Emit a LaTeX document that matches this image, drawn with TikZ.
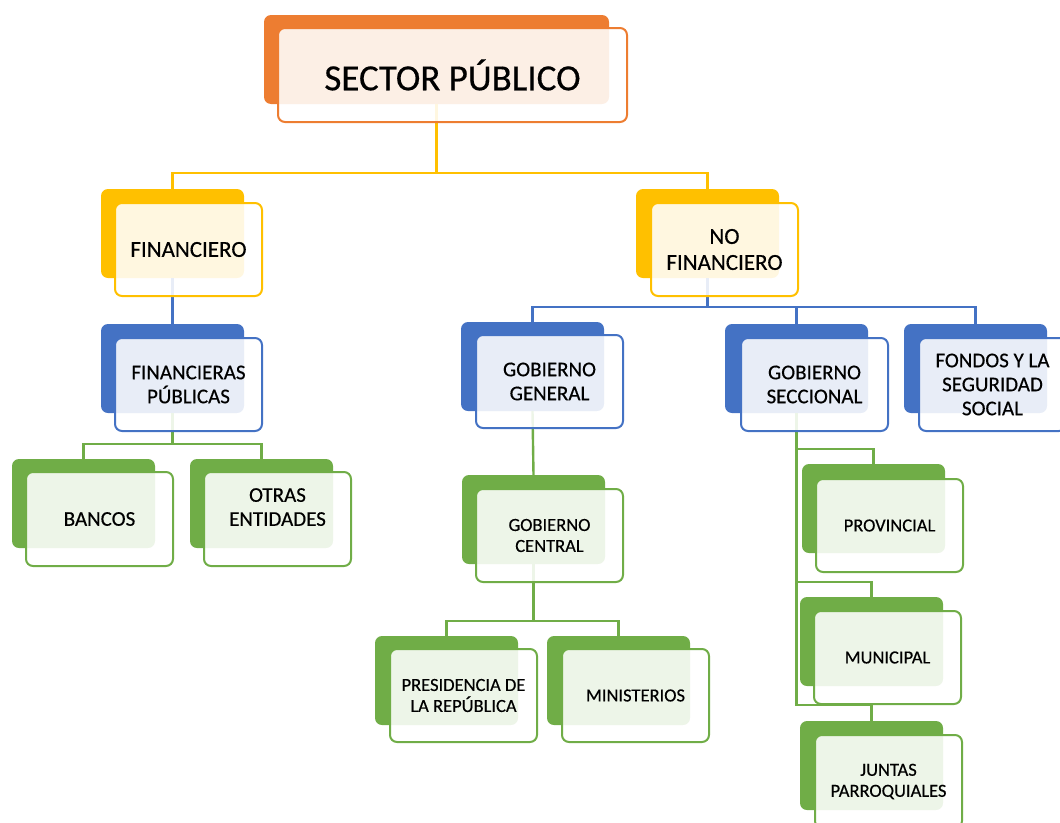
\documentclass[tikz,border=0pt]{standalone}
\usepackage{fontspec}
\setmainfont{Carlito}[FakeBold=0.4]
\definecolor{cor}{HTML}{ED7D31}
\definecolor{cgo}{HTML}{FFC000}
\definecolor{cbl}{HTML}{4472C4}
\definecolor{cgr}{HTML}{70AD47}
\tikzset{
  backbox/.style={fill=#1, draw=none, rounded corners=7pt, minimum width=143pt, minimum height=89pt, anchor=north west, inner sep=0pt, outer sep=0pt},
  frontbox/.style={draw=#1, line width=2pt, fill=white, fill opacity=0.88, text opacity=1, rounded corners=7pt, minimum width=147pt, minimum height=93pt, anchor=north west, align=center, inner sep=0pt, outer sep=0pt, text=black},
  conn/.style={draw=#1, line width=2.4pt},
  fbig/.style={font=\fontsize{37}{42}\selectfont},
  fone/.style={font=\fontsize{23}{26}\selectfont},
  ftwo/.style={font=\fontsize{21}{24}\selectfont},
  fthree/.style={font=\fontsize{18.5}{21}\selectfont},
}
\begin{document}
\begin{tikzpicture}[x=1pt,y=-1pt]
\useasboundingbox (0,0) rectangle (1060,822);
\clip (0,0) rectangle (1060,822);
% back boxes
\node[backbox=cor, minimum width=345pt] (spb) at (264,15) {};
\node[backbox=cgo] (finb) at (101,189) {};
\node[backbox=cgo] (nofb) at (636,189) {};
\node[backbox=cbl] (fpb) at (101,324) {};
\node[backbox=cbl] (ggb) at (461,322) {};
\node[backbox=cbl] (secb) at (725,324) {};
\node[backbox=cbl] (fonb) at (904,324) {};
\node[backbox=cgr] (banb) at (12,459) {};
\node[backbox=cgr] (otrb) at (190,459) {};
\node[backbox=cgr] (gcb) at (462,475) {};
\node[backbox=cgr] (presb) at (375,636) {};
\node[backbox=cgr] (minb) at (547,636) {};
\node[backbox=cgr] (provb) at (802,464) {};
\node[backbox=cgr] (munb) at (800,597) {};
\node[backbox=cgr] (junb) at (800,721) {};
% connectors
\draw[conn=cgo] (spb.south) -- ++(0,69) -| (finb.north);
\draw[conn=cgo] (spb.south) -- ++(0,69) -| (nofb.north);
\draw[conn=cbl] (finb.south) -- (fpb.north);
\draw[conn=cbl] (nofb.south) -- ++(0,29) -| (ggb.north);
\draw[conn=cbl] (nofb.south) -- ++(0,29) -| (secb.north);
\draw[conn=cbl] (nofb.south) -- ++(0,29) -| (fonb.north);
\draw[conn=cgr] (fpb.south) -- ++(0,31) -| (banb.north);
\draw[conn=cgr] (fpb.south) -- ++(0,31) -| (otrb.north);
\draw[conn=cgr] (ggb.south) -- (gcb.north);
\draw[conn=cgr] (gcb.south) -- ++(0,57) -| (presb.north);
\draw[conn=cgr] (gcb.south) -- ++(0,57) -| (minb.north);
\draw[conn=cgr] (secb.south) -- ++(0,36) -| (provb.north);
\draw[conn=cgr] (secb.south) -- ++(0,169) -| (munb.north);
\draw[conn=cgr] (secb.south) -- ++(0,292) -| (junb.north);
% front boxes
\node[frontbox=cor, minimum width=349pt, minimum height=94pt, fbig] (spf) at (278,28) {SECTOR PÚBLICO};
\node[frontbox=cgo, fone] (finf) at (115,203) {FINANCIERO};
\node[frontbox=cgo, fone] (noff) at (651,203) {NO\\FINANCIERO};
\node[frontbox=cbl, ftwo] (fpf) at (115,338) {FINANCIERAS\\PÚBLICAS};
\node[frontbox=cbl, ftwo] (ggf) at (476,335) {GOBIERNO\\GENERAL};
\node[frontbox=cbl, ftwo] (secf) at (741,338) {GOBIERNO\\SECCIONAL};
\node[frontbox=cbl, ftwo] (fonf) at (919,338) {FONDOS Y LA\\SEGURIDAD\\SOCIAL};
\node[frontbox=cgr, ftwo, minimum height=94pt] (banf) at (26,472) {BANCOS};
\node[frontbox=cgr, ftwo, minimum height=94pt, text depth=24pt] (otrf) at (204,472) {OTRAS\\ENTIDADES};
\node[frontbox=cgr, fthree] (gcf) at (476,489) {GOBIERNO\\CENTRAL};
\node[frontbox=cgr, fthree] (presf) at (390,649) {PRESIDENCIA DE\\LA REPÚBLICA};
\node[frontbox=cgr, fthree] (minf) at (562,649) {MINISTERIOS};
\node[frontbox=cgr, fthree] (provf) at (816,479) {PROVINCIAL};
\node[frontbox=cgr, fthree] (munf) at (814,611) {MUNICIPAL};
\node[frontbox=cgr, fthree] (junf) at (815,735) {JUNTAS\\PARROQUIALES};
\end{tikzpicture}
\end{document}
